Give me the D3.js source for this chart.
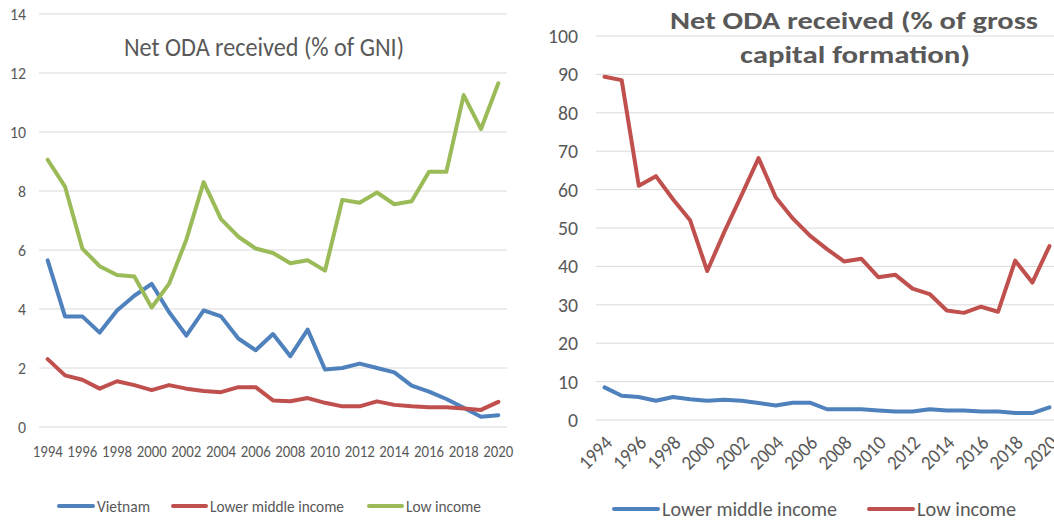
<!DOCTYPE html>
<html>
<head>
<meta charset="utf-8">
<script src="https://cdn.jsdelivr.net/npm/d3@7"></script>
<style>
  body { margin: 0; background: #fff; }
  svg text { font-family: Carlito, Calibri, Lato, sans-serif; fill: #595959; }
</style>
</head>
<body>
<svg id="chart"></svg>
<script>
// data
const years = [1994, 1995, 1996, 1997, 1998, 1999, 2000, 2001, 2002, 2003, 2004, 2005, 2006,
  2007, 2008, 2009, 2010, 2011, 2012, 2013, 2014, 2015, 2016, 2017, 2018, 2019, 2020]
const tickYears = [1994, 1996, 1998, 2000, 2002, 2004, 2006, 2008, 2010, 2012, 2014, 2016, 2018, 2020]
const leftYTicks = [0, 2, 4, 6, 8, 10, 12, 14]
const rightYTicks = [0, 10, 20, 30, 40, 50, 60, 70, 80, 90, 100]

// % of GNI
const gniVietnam = [5.65, 3.75, 3.75, 3.2, 3.95, 4.45, 4.85, 3.9, 3.1, 3.95, 3.75, 3.0, 2.6,
  3.15, 2.4, 3.3, 1.95, 2.0, 2.15, 2.0, 1.85, 1.4, 1.2, 0.95, 0.65, 0.35, 0.4]
const gniLowerMiddle = [2.3, 1.75, 1.6, 1.3, 1.55, 1.42, 1.25, 1.42, 1.3, 1.22, 1.18, 1.35, 1.35,
  0.9, 0.87, 0.98, 0.82, 0.7, 0.7, 0.87, 0.75, 0.7, 0.67, 0.67, 0.63, 0.58, 0.85]
const gniLow = [9.06, 8.15, 6.05, 5.45, 5.15, 5.1, 4.05, 4.85, 6.35, 8.3, 7.05, 6.45, 6.05,
  5.9, 5.55, 5.65, 5.3, 7.7, 7.6, 7.95, 7.55, 7.65, 8.65, 8.65, 11.25, 10.1, 11.65]

// % of gross capital formation
const gcfLowerMiddle = [8.5, 6.3, 6.0, 5.0, 6.0, 5.4, 5.0, 5.3, 5.0, 4.4, 3.8, 4.5, 4.5,
  2.8, 2.8, 2.8, 2.5, 2.2, 2.2, 2.8, 2.5, 2.5, 2.2, 2.2, 1.8, 1.8, 3.3]
const gcfLow = [89.4, 88.5, 61.0, 63.5, 57.5, 52.0, 38.8, 49.0, 58.5, 68.2, 58.0, 52.5, 48.0,
  44.5, 41.3, 42.0, 37.2, 37.8, 34.2, 32.8, 28.5, 27.9, 29.5, 28.2, 41.5, 35.8, 45.3]

const blue = '#4F81BD'
const red = '#C0504D'
const green = '#9BBB59'

const width = 1054
const height = 521

const svg = d3.select('svg#chart').attr('width', width).attr('height', height)

// squeeze a text to a given pixel width (the source uses a narrow font)
function fitText(sel, w) {
  sel.attr('textLength', w).attr('lengthAdjust', 'spacingAndGlyphs')
}

function drawPanel(opts) {
  const g = svg.append('g')

  const x = d3.scalePoint().domain(years).range(opts.xRange).padding(0.5)
  const y = d3.scaleLinear().domain(opts.yDomain).range(opts.yRange)

  // gridlines
  g.selectAll('line.grid').data(opts.yTicks).enter().append('line')
    .attr('class', 'grid')
    .attr('x1', opts.xRange[0]).attr('x2', opts.xRange[1])
    .attr('y1', d => y(d)).attr('y2', d => y(d))
    .attr('stroke', '#d9d9d9').attr('stroke-width', 1)

  // y labels
  const yl = g.selectAll('text.ylab').data(opts.yTicks).enter().append('text')
    .attr('class', 'ylab')
    .attr('x', opts.yLabelX).attr('y', d => y(d))
    .attr('dy', '0.35em')
    .attr('text-anchor', 'end')
    .style('font-size', opts.yFont + 'px')
    .text(d => d)
  if (opts.yDigitW) yl.each(function (d) { fitText(d3.select(this), String(d).length * opts.yDigitW) })

  // x labels
  const xl = g.selectAll('text.xlab').data(opts.xTicks).enter().append('text')
    .attr('class', 'xlab')
    .style('font-size', opts.xFont + 'px')
    .text(d => d)
  if (opts.xLabelW) fitText(xl, opts.xLabelW)
  if (opts.rotate) {
    xl.attr('text-anchor', 'end')
      .attr('transform', d => 'translate(' + (x(d) + 4) + ',' + (y(0) + 19) + ') rotate(-45)')
      .attr('dy', '0.35em')
  } else {
    xl.attr('text-anchor', 'middle')
      .attr('x', d => x(d)).attr('y', opts.xLabelY)
  }

  // series
  const line = d3.line().x((d, i) => x(years[i])).y(d => y(d))
  opts.series.forEach(s => {
    g.append('path')
      .datum(s.values)
      .attr('d', line)
      .attr('fill', 'none')
      .attr('stroke', s.color)
      .attr('stroke-width', 4)
      .attr('stroke-linejoin', 'round')
      .attr('stroke-linecap', 'round')
  })

  // title
  opts.title.forEach(t => {
    const tt = g.append('text')
      .attr('x', t.x).attr('y', t.y)
      .attr('text-anchor', 'middle')
      .style('font-size', t.size + 'px')
      .style('font-weight', t.bold ? 'bold' : 'normal')
      .text(t.text)
    fitText(tt, t.w)
  })

  // legend
  opts.legend.forEach(l => {
    g.append('line')
      .attr('x1', l.x).attr('x2', l.x + l.len)
      .attr('y1', opts.legendY).attr('y2', opts.legendY)
      .attr('stroke', l.color).attr('stroke-width', 4)
      .attr('stroke-linecap', 'round')
    const lt = g.append('text')
      .attr('x', l.x + l.len + 4).attr('y', opts.legendY)
      .attr('dy', '0.35em')
      .style('font-size', opts.legendFont + 'px')
      .text(l.name)
    fitText(lt, l.w)
  })
}

drawPanel({
  xRange: [39, 507],
  yDomain: [0, 14],
  yRange: [427, 14],
  yTicks: leftYTicks,
  yLabelX: 26,
  yFont: 16,
  yDigitW: 8,
  xTicks: tickYears,
  xFont: 16,
  xLabelW: 30,
  xLabelY: 457,
  rotate: false,
  series: [
    { values: gniVietnam, color: blue },
    { values: gniLowerMiddle, color: red },
    { values: gniLow, color: green },
  ],
  title: [{ text: 'Net ODA received (% of GNI)', x: 264, y: 56, size: 26, bold: false, w: 280 }],
  legendY: 506,
  legendFont: 16,
  legend: [
    { name: 'Vietnam', color: blue, x: 59, len: 34, w: 53 },
    { name: 'Lower middle income', color: red, x: 173, len: 33, w: 134 },
    { name: 'Low income', color: green, x: 369, len: 33, w: 75 },
  ],
})

drawPanel({
  xRange: [596, 1058],
  yDomain: [0, 100],
  yRange: [420, 36],
  yTicks: rightYTicks,
  yLabelX: 578,
  yFont: 20,
  yDigitW: 10,
  xTicks: tickYears,
  xFont: 20,
  xLabelW: 38,
  rotate: true,
  series: [
    { values: gcfLowerMiddle, color: blue },
    { values: gcfLow, color: red },
  ],
  title: [
    { text: 'Net ODA received (% of gross', x: 854, y: 29, size: 24, bold: true, w: 368 },
    { text: 'capital formation)', x: 855, y: 63, size: 24, bold: true, w: 230 },
  ],
  legendY: 509,
  legendFont: 21,
  legend: [
    { name: 'Lower middle income', color: blue, x: 614, len: 44, w: 175 },
    { name: 'Low income', color: red, x: 869, len: 44, w: 99 },
  ],
})
</script>
</body>
</html>
